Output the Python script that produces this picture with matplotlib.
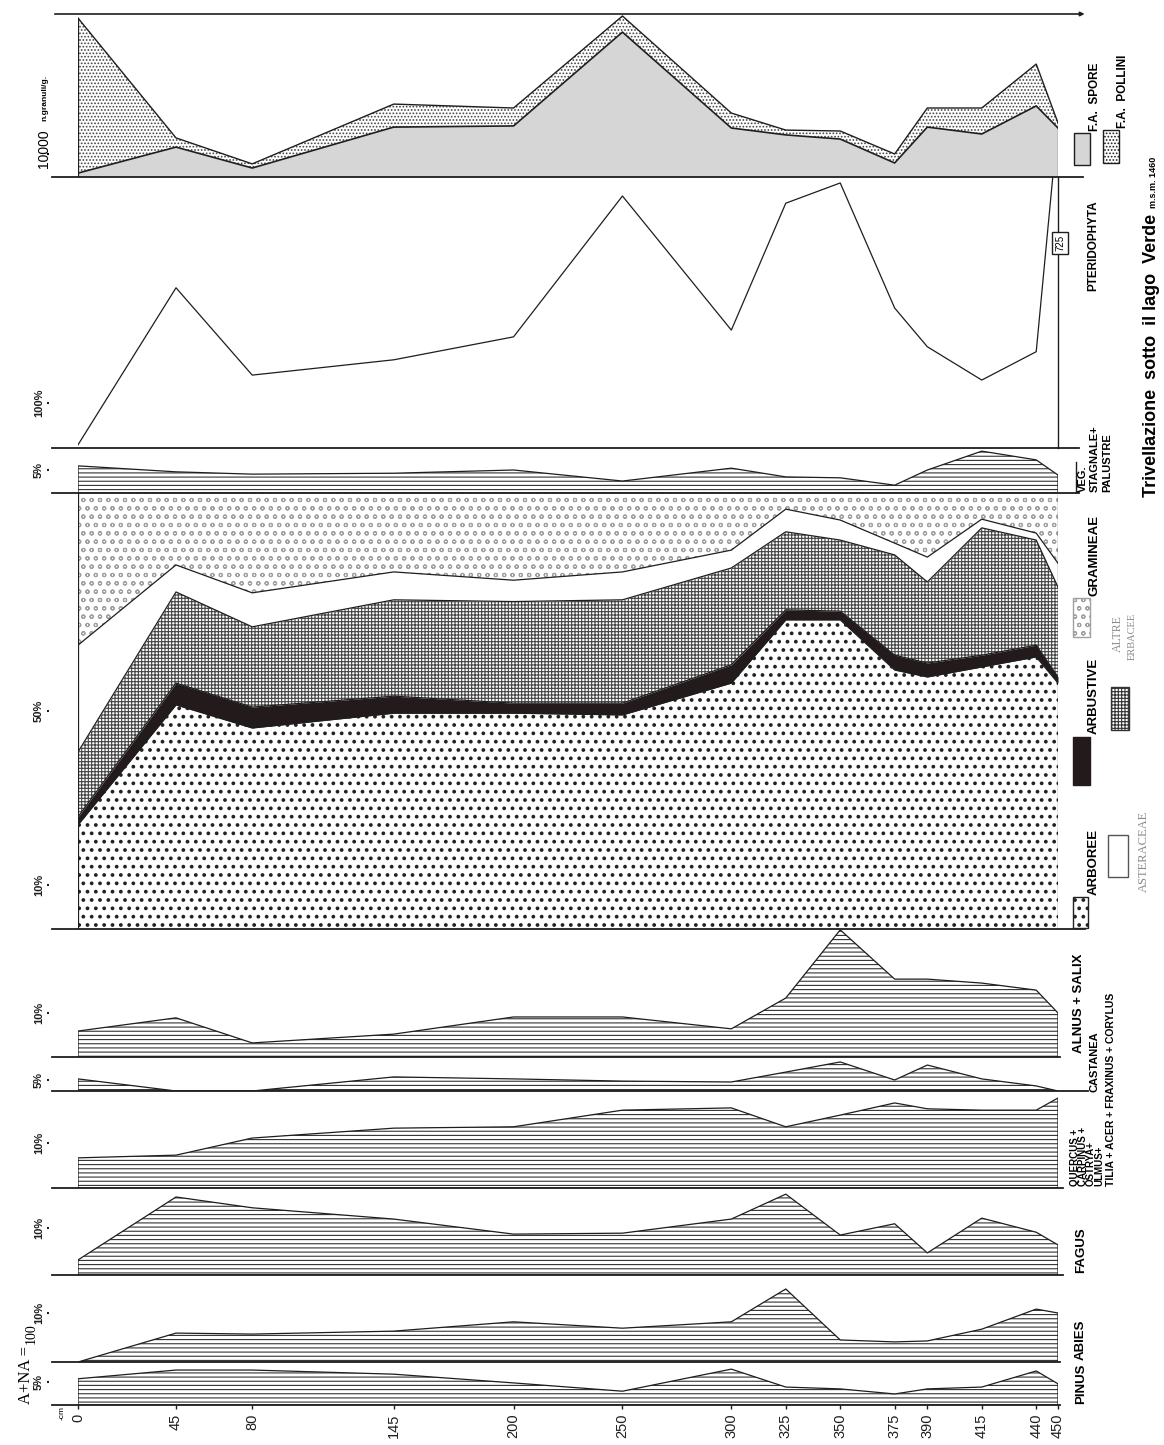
import numpy as np
import matplotlib
matplotlib.use("Agg")
import matplotlib.pyplot as plt
from matplotlib.patches import Rectangle

plt.rcParams['font.family'] = ['Liberation Sans', 'DejaVu Sans']
plt.rcParams['hatch.linewidth'] = 0.8

# profondita' dei campioni (cm)
depth = [0, 45, 80, 145, 200, 250, 300, 325, 350, 375, 390, 415, 440, 450]

# singoli taxa (%)
pinus = [5.7, 7.6, 7.6, 6.7, 4.8, 3.0, 7.8, 3.9, 3.5, 2.4, 3.5, 3.9, 7.4, 4.6]
abies = [0, 5.9, 5.7, 6.3, 8.2, 6.9, 8.2, 14.9, 4.5, 4.1, 4.3, 6.7, 10.8, 10.0]
fagus = [3.2, 16.6, 14.3, 11.9, 8.7, 8.9, 11.9, 17.2, 8.5, 10.9, 4.7, 12.1, 9.1, 6.4]
querceto = [6.7, 7.3, 11.1, 13.3, 13.6, 17.3, 17.8, 13.6, 16.2, 18.9, 17.6, 17.3, 17.3, 20.0]
castanea = [5.5, 0, 0, 6.4, 5.5, 4.5, 4.1, 8.6, 13.2, 5.0, 11.8, 5.5, 2.3, 0]
alnus = [5.9, 8.9, 3.2, 5.2, 9.1, 9.1, 6.4, 13.4, 28.9, 17.7, 17.7, 16.8, 15.2, 10.0]

# diagramma totale (%)
arboree = [23.9, 51.4, 46.1, 49.5, 49.5, 49.1, 56.4, 70.9, 70.9, 59.4, 57.8, 60.1, 62.4, 56.4]
arbustive = [1.8, 5.0, 4.8, 3.9, 2.3, 2.7, 4.2, 2.3, 2.0, 3.4, 3.2, 2.7, 2.7, 1.4]
altre_erbacee = [14.9, 20.9, 18.4, 22.1, 23.3, 23.7, 22.2, 17.9, 16.3, 23.0, 18.6, 29.2, 24.1, 20.6]
asteraceae = [24.5, 6.2, 7.8, 6.4, 4.9, 6.4, 4.1, 5.2, 4.6, 2.7, 5.7, 2.0, 1.6, 5.5]
gramineae = [34.9, 16.5, 22.9, 18.1, 20.0, 18.1, 13.1, 3.7, 6.2, 11.5, 14.7, 6.0, 9.2, 16.1]

veg_stagnale = [5.9, 4.6, 4.1, 4.3, 5.0, 2.6, 5.4, 3.5, 3.3, 1.7, 5.0, 9.1, 7.2, 3.9]
pteridophyta = [7, 356, 162, 196, 247, 560, 262, 544, 589, 311, 225, 151, 214, 725]

# frequenza assoluta (n. granuli/g)
fa_spore = [1700, 13000, 3900, 21700, 22200, 63000, 21300, 18300, 16500, 6100, 21700, 18700, 30900, 21300]
fa_pollini = [67400, 4000, 1800, 10000, 7800, 7000, 6500, 2100, 3500, 3900, 8300, 11300, 18200, 2200]

depth_labels = [str(d) for d in depth]

W, H = 1164, 1445
L, R = 78, 1058
INK = '#1e1e1e'

fig = plt.figure(figsize=(W / 100, H / 100), dpi=100)


def panel(bottom, top, scale, right_ext=1060):
    """Striscia orizzontale: base a 'bottom' px, alta fino a 'top' px."""
    ax = fig.add_axes([L / W, 1 - bottom / H, (R - L) / W, (bottom - top) / H])
    ax.set_xlim(0, 450)
    ax.set_ylim(0, (bottom - top) / scale)
    for s in ax.spines.values():
        s.set_visible(False)
    ax.patch.set_alpha(0)
    ax.set_xticks([])
    ax.set_yticks([])
    ax.plot([(52 - L) / (R - L), (right_ext - L) / (R - L)], [0, 0],
            transform=ax.get_yaxis_transform(), color=INK, lw=1.3, clip_on=False)
    return ax


def ytick(ax, vals, labels):
    ax.set_yticks(vals)
    ax.set_yticklabels(labels)
    ax.spines['left'].set_position(('outward', 21))
    ax.tick_params(axis='y', length=1.5, width=1.5, pad=2, labelsize=8, colors=INK)
    for t in ax.get_yticklabels():
        t.set_rotation(90)
        t.set_va('center')
        t.set_fontweight('bold')


def area(ax, y, hatch='----'):
    ax.fill_between(depth, 0, y, facecolor='white', edgecolor='#333333', hatch=hatch, lw=0)
    ax.fill_between(depth, 0, y, facecolor='none', edgecolor=INK, lw=0.9)


def vtext(x, y, s, size=9.5, weight='bold', **kw):
    kw.setdefault('ha', 'center')
    kw.setdefault('va', 'bottom')
    fig.text(x / W, 1 - y / H, s, rotation=90, fontsize=size, fontweight=weight, **kw)


def box(x0, y0, x1, y1, **kw):
    fig.add_artist(Rectangle((x0 / W, 1 - y1 / H), (x1 - x0) / W, (y1 - y0) / H,
                             transform=fig.transFigure, **kw))


# --- pannelli singoli ---
ax = panel(1405, 1362, 4.6)
area(ax, pinus)
ytick(ax, [5], ['5%'])
ax.set_xticks(depth)
ax.set_xticklabels(depth_labels, rotation=90, fontsize=10.5)
ax.tick_params(axis='x', length=3, width=1, pad=3, colors=INK)

ax = panel(1362, 1280, 4.9)
area(ax, abies)
ytick(ax, [10], ['10%'])

ax = panel(1275, 1192, 4.7, 1063)
area(ax, fagus)
ytick(ax, [10], ['10%'])

ax = panel(1188, 1095, 4.5, 1063)
area(ax, querceto)
ytick(ax, [10], ['10%'])

ax = panel(1091, 1060, 2.2, 1088)
area(ax, castanea)
ytick(ax, [5], ['5%'])

ax = panel(1057, 929, 4.4)
area(ax, alnus)
ytick(ax, [10], ['10%'])

# --- diagramma totale ---
ax = panel(929, 493, 4.36, 1085)
layers = [arboree, arbustive, altre_erbacee, asteraceae, gramineae]
cum = np.vstack([np.zeros(len(depth)), np.cumsum(layers, axis=0)])
styles = [
    dict(facecolor='white', edgecolor='#222222', hatch='..'),
    dict(facecolor='#231b1b', edgecolor='#231b1b'),
    dict(facecolor='white', edgecolor='#444444', hatch='+++++'),
    dict(facecolor='white', edgecolor='white'),
    dict(facecolor='white', edgecolor='#a0a0a0', hatch='oo'),
]
for i, st in enumerate(styles):
    hlw = 1.5 if i == 0 else 0.8
    with plt.rc_context({'hatch.linewidth': hlw}):
        ax.fill_between(depth, cum[i], cum[i + 1], lw=0, **st)
for i in range(1, 5):
    ax.plot(depth, cum[i], color=INK, lw=0.9)
ax.plot([0, 0], [0, 100], color=INK, lw=0.9)
ax.plot([450, 450], [0, 100], color=INK, lw=0.9)
ytick(ax, [10, 50], ['10%', '50%'])

# --- vegetazione stagnale + palustre ---
ax = panel(493, 450, 4.6, 1079)
area(ax, veg_stagnale)
ytick(ax, [5], ['5%'])

# --- pteridophyta ---
ax = panel(448, 177, 0.45, 1079)
ax.plot(depth, pteridophyta, color=INK, lw=0.9)
ax.spines['right'].set_visible(True)
ax.spines['right'].set_linewidth(1.0)
ax.spines['right'].set_color(INK)
ytick(ax, [100], ['100%'])

# --- frequenza assoluta ---
ax = panel(177, 14, 23 / 10000, 1083)
fa_tot = np.add(fa_spore, fa_pollini)
ax.fill_between(depth, 0, fa_spore, facecolor='#d6d6d6', lw=0)
ax.fill_between(depth, fa_spore, fa_tot, facecolor='white', edgecolor='#444444', hatch='.....', lw=0)
ax.plot(depth, fa_spore, color=INK, lw=1.2)
ax.plot(depth, fa_tot, color=INK, lw=1.0)
ax.plot([0, 0], [0, fa_tot[0]], color=INK, lw=0.9)
ax.plot([450, 450], [0, fa_tot[-1]], color=INK, lw=0.9)
ax.annotate('', xy=(1.03, 1), xytext=((52 - L) / (R - L), 1), xycoords='axes fraction',
            arrowprops=dict(arrowstyle='-|>', lw=1.2, color=INK, mutation_scale=6))
ax.set_yticks([10000])
ax.set_yticklabels([''])
ax.spines['left'].set_position(('outward', 21))
ax.tick_params(axis='y', length=1.5, width=1.5)

# --- testi a sinistra ---
vtext(44, 168, '10000', size=10, weight='normal')
vtext(45, 121, 'n.granuli/g.', size=6)
vtext(26, 1404, 'A+NA =', size=12, weight='normal', family='Liberation Serif')
vtext(31, 1344, '100', size=10, weight='normal', family='Liberation Serif')
vtext(62, 1406, '-cm', size=6, weight='normal', va='top')

# --- etichette a destra ---
vtext(1081, 1404, 'PINUS')
vtext(1081, 1360, 'ABIES')
vtext(1081, 1273, 'FAGUS')
vtext(1087, 1186, 'QUERCUS +\nCARPINUS +\nOSTRYA+\nULMUS+', size=7,
      linespacing=0.78, multialignment='left')
vtext(1111, 1186, 'TILIA + ACER + FRAXINUS + CORYLUS', size=7.5)
vtext(1094, 1092, 'CASTANEA', size=8)
vtext(1079, 1053, 'ALNUS + SALIX')

with plt.rc_context({'hatch.linewidth': 1.5}):
    box(1073, 897, 1088, 928, facecolor='white', edgecolor='#222222', hatch='..', lw=1)
vtext(1094, 895, 'ARBOREE')
box(1073, 737, 1090, 785, facecolor='#231b1b', edgecolor='#231b1b', lw=1)
vtext(1094, 734, 'ARBUSTIVE')
box(1073, 598, 1090, 637, facecolor='white', edgecolor='#a0a0a0', hatch='oo', lw=1)
vtext(1094, 596, 'GRAMINEAE')
box(1108, 835, 1128, 877, facecolor='white', edgecolor='#555555', lw=1)
vtext(1144, 892, 'ASTERACEAE', size=9, weight='normal', family='Liberation Serif', color='#8a8a8a')
box(1111, 687, 1129, 730, facecolor='white', edgecolor='#333333', hatch='+++++', lw=1)
vtext(1118, 652, 'ALTRE', size=8.5, weight='normal', family='Liberation Serif', color='#8a8a8a')
vtext(1132, 660, 'ERBACEE', size=7.5, weight='normal', family='Liberation Serif', color='#8a8a8a')

fig.add_artist(plt.Line2D([1076 / W, 1076 / W], [1 - 492 / H, 1 - 462 / H], color=INK, lw=1))
vtext(1083, 492, 'VEG.', size=8)
vtext(1095, 492, 'STAGNALE+', size=8)
vtext(1107, 492, 'PALUSTRE', size=8)

vtext(1093, 291, 'PTERIDOPHYTA', size=8.5)
fig.text(1060 / W, 1 - 243 / H, '725', rotation=90, ha='center', va='center', fontsize=7,
         bbox=dict(boxstyle='square,pad=0.35', facecolor='white', edgecolor=INK, lw=1))

box(1074, 133, 1090, 165, facecolor='#d6d6d6', edgecolor=INK, lw=1)
vtext(1095, 131, 'F.A.  SPORE', size=8.5)
box(1103, 130, 1119, 163, facecolor='white', edgecolor=INK, hatch='.....', lw=1)
vtext(1123, 128, 'F.A.  POLLINI', size=8.5)

vtext(1152, 497, 'Trivellazione  sotto  il lago  Verde', size=13)
vtext(1153, 208, 'm.s.m. 1460', size=6.5)

fig.savefig('out.png', dpi=100)
